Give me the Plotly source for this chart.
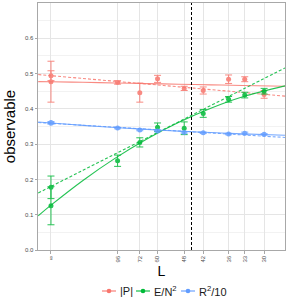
import numpy as np
import plotly.graph_objects as go

# ---- data ----
tick_L = [np.inf, 96, 72, 60, 48, 42, 36, 33, 30]
tick_text = ["∞", "96", "72", "60", "48", "42", "36", "33", "30"]

pts_L = [np.inf, np.inf, 96, 72, 60, 48, 42, 36, 33, 30]

P_val = [0.477, 0.494, 0.475, 0.446, 0.485, 0.458, 0.452, 0.484, 0.484, 0.441]
P_err = [0.058, 0.014, 0.005, 0.027, 0.010, 0.006, 0.010, 0.012, 0.007, 0.011]

E_val = [0.1255, 0.1776, 0.253, 0.305, 0.348, 0.345, 0.387, 0.427, 0.439, 0.450]
E_err = [0.054, 0.032, 0.016, 0.013, 0.012, 0.018, 0.011, 0.008, 0.008, 0.008]

R_val = [0.361, 0.359, 0.3456, 0.340, 0.337, 0.333, 0.332, 0.3286, 0.331, 0.3277]
R_err = [0.003, 0.002, 0.002, 0.002, 0.002, 0.002, 0.002, 0.002, 0.003, 0.002]

# fit curves (x in 1/L)
fit_x = [-0.002, 0.0, 0.005, 0.010, 0.015, 0.020, 0.025, 0.030, 0.0366]
P_fit_solid = [0.4773, 0.477, 0.4752, 0.4734, 0.4716, 0.4698, 0.468, 0.4662, 0.464]
P_fit_dash = [0.4972, 0.494, 0.4861, 0.4782, 0.4703, 0.4624, 0.4545, 0.4466, 0.436]
E_fit_solid = [0.0969, 0.127, 0.1971, 0.2596, 0.3146, 0.3618, 0.4019, 0.4344, 0.4653]
E_fit_dash = [0.1616, 0.180, 0.2259, 0.2718, 0.3177, 0.3636, 0.4095, 0.4554, 0.516]
R_fit_solid = [0.3626, 0.360, 0.3532, 0.3472, 0.3418, 0.3370, 0.3328, 0.3292, 0.325]
R_fit_dash = [0.3612, 0.359, 0.3535, 0.3481, 0.3426, 0.3372, 0.3317, 0.3262, 0.319]

L_cut = 45.5

names = ["|P|", "E/N<sup>2</sup>", "R<sup>2</sup>/10"]
colors = ["#F8766D", "#00BA38", "#619CFF"]
vals = [P_val, E_val, R_val]
errs = [P_err, E_err, R_err]
solids = [P_fit_solid, E_fit_solid, R_fit_solid]
dashes = [P_fit_dash, E_fit_dash, R_fit_dash]

pts_x = [1.0 / L for L in pts_L]
tick_x = [1.0 / L for L in tick_L]

fig = go.Figure()

for name, c, v, e, s, d in zip(names, colors, vals, errs, solids, dashes):
    fig.add_trace(go.Scatter(x=fit_x, y=s, mode="lines", line=dict(color=c, width=1.1, shape="spline"),
                             opacity=0.85, showlegend=False, hoverinfo="skip"))
    fig.add_trace(go.Scatter(x=fit_x, y=d, mode="lines", line=dict(color=c, width=1.1, dash="3px,2px", shape="spline"),
                             opacity=0.85, showlegend=False, hoverinfo="skip"))
    fig.add_trace(go.Scatter(x=pts_x, y=v, mode="markers", name=name,
                             marker=dict(color=c, size=5),
                             error_y=dict(type="data", array=e, color=c, thickness=1, width=3.5),
                             opacity=0.85, showlegend=False))

fig.add_shape(type="line", x0=1.0 / L_cut, x1=1.0 / L_cut, y0=0, y1=1, yref="paper",
              line=dict(color="black", width=1, dash="3px,2px"))

# ---- manual legend (below the panel) ----
plot_l, plot_w, plot_b, plot_h = 38, 247, 250, 247
def px_x(p):
    return (p - plot_l) / plot_w
leg_y = (plot_b - 291) / plot_h
leg_centers = [109, 143, 188]
for name, c, cx in zip(names, colors, leg_centers):
    fig.add_shape(type="line", xref="paper", yref="paper", x0=px_x(cx - 7), x1=px_x(cx + 7),
                  y0=leg_y, y1=leg_y, line=dict(color=c, width=1.1))
    fig.add_shape(type="circle", xref="paper", yref="paper", x0=px_x(cx - 2.3), x1=px_x(cx + 2.3),
                  y0=leg_y - 2.3 / plot_h, y1=leg_y + 2.3 / plot_h, fillcolor=c, line=dict(width=0))
    fig.add_annotation(text=name, xref="paper", yref="paper", x=px_x(cx + 9), y=leg_y,
                       xanchor="left", yanchor="middle", showarrow=False,
                       font=dict(size=11, color="#1A1A1A", family="Liberation Sans"))

axis_common = dict(showline=True, mirror=True, linecolor="#A8A8A8", linewidth=1,
                   gridcolor="#E5E5E5", gridwidth=1, ticks="outside", ticklen=2.5,
                   tickcolor="#A8A8A8", tickfont=dict(size=6, color="#4D4D4D",
                                                      family="Liberation Sans"),
                   zeroline=False, automargin=False)

fig.update_xaxes(range=[-0.00203, 0.0366], tickmode="array", tickvals=tick_x, ticktext=tick_text,
                 tickangle=-90, title=dict(text="L", font=dict(size=14, color="black",
                                                               family="Liberation Sans"), standoff=2),
                 **axis_common)
fig.update_yaxes(range=[0, 0.7], tickmode="array", tickvals=[0, 0.1, 0.2, 0.3, 0.4, 0.5, 0.6],
                 ticktext=["0.0", "0.1", "0.2", "0.3", "0.4", "0.5", "0.6"],
                 minor=dict(tickvals=[0.05, 0.15, 0.25, 0.35, 0.45, 0.55, 0.65], showgrid=True,
                            gridcolor="#F2F2F2", ticks=""),
                 title=dict(text="observable", font=dict(size=15, color="black",
                                                        family="Liberation Sans"), standoff=5),
                 **axis_common)

fig.update_layout(
    width=301, height=301,
    margin=dict(l=38, r=16, t=3, b=51),
    plot_bgcolor="white", paper_bgcolor="white",
    font=dict(family="Liberation Sans"),
    showlegend=False,
)

fig.write_html("out.html", config={"displayModeBar": False},
               post_script="document.body.style.margin='0';")
